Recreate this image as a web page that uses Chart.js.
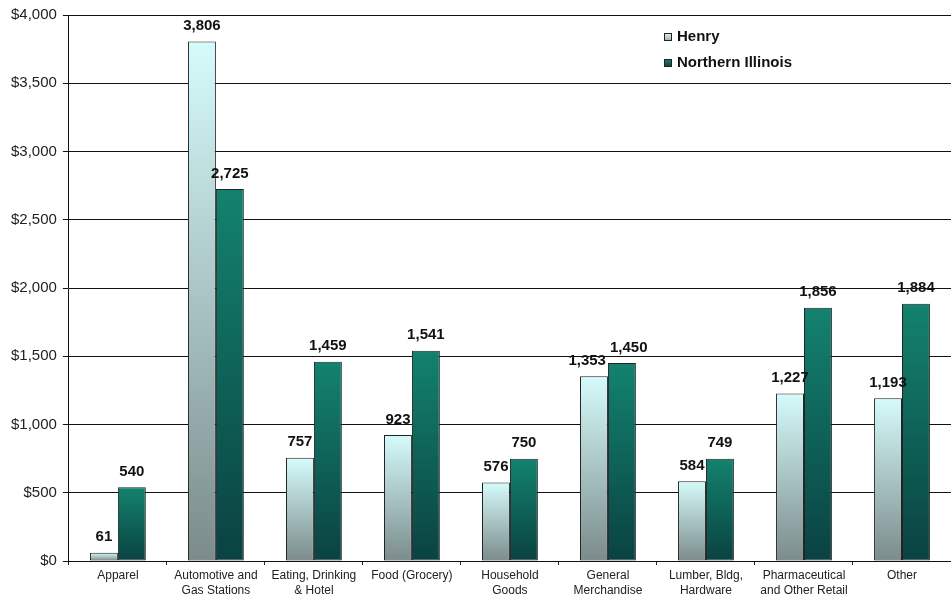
<!DOCTYPE html>
<html>
<head>
<meta charset="utf-8">
<script src="https://cdn.jsdelivr.net/npm/chart.js@4"></script>
<style>
  html, body { margin: 0; padding: 0; background: #fff; }
  #wrap { width: 951px; height: 601px; }
</style>
</head>
<body>
<div id="wrap"><canvas id="c" width="951" height="601"></canvas></div>
<script>
const categories = [
  ['Apparel'],
  ['Automotive and', 'Gas Stations'],
  ['Eating, Drinking', '& Hotel'],
  ['Food (Grocery)'],
  ['Household', 'Goods'],
  ['General', 'Merchandise'],
  ['Lumber, Bldg,', 'Hardware'],
  ['Pharmaceutical', 'and Other Retail'],
  ['Other']
];
const henry = [61, 3806, 757, 923, 576, 1353, 584, 1227, 1193];
const northernIllinois = [540, 2725, 1459, 1541, 750, 1450, 749, 1856, 1884];
const seriesNames = ['Henry', 'Northern Illinois'];

const FONT = '"Liberation Sans", Arial, sans-serif';

// colores de cada serie (arriba, abajo)
const GRAD = {
  henry: ['#d6fbfb', '#7b8b8b'],
  ni: ['#13826f', '#0a4242']
};

function barGradient(cols) {
  return function (ctx) {
    const chart = ctx.chart;
    if (!chart.chartArea || ctx.raw == null) return cols[0];
    const y = chart.scales.y;
    const top = y.getPixelForValue(ctx.raw);
    const bottom = y.getPixelForValue(0);
    const g = chart.ctx.createLinearGradient(0, top, 0, bottom);
    g.addColorStop(0, cols[0]);
    g.addColorStop(1, cols[1]);
    return g;
  };
}

// etiquetas de valor encima de las barras
const valueLabels = {
  id: 'valueLabels',
  afterDatasetsDraw(chart) {
    const c = chart.ctx;
    c.save();
    c.font = 'bold 15px ' + FONT;
    c.fillStyle = '#111';
    c.textAlign = 'center';
    c.textBaseline = 'bottom';
    const m0 = chart.getDatasetMeta(0).data;
    const m1 = chart.getDatasetMeta(1).data;
    for (let i = 0; i < m0.length; i++) {
      const t0 = chart.data.datasets[0].data[i].toLocaleString('en-US');
      const t1 = chart.data.datasets[1].data[i].toLocaleString('en-US');
      let x0 = m0[i].x, y0 = m0[i].y - 8;
      let x1 = m1[i].x, y1 = m1[i].y - 8;
      const w0 = c.measureText(t0).width, w1 = c.measureText(t1).width;
      // evitar que se pisen
      if (Math.abs(y0 - y1) < 17) {
        const overlap = (x0 + w0 / 2 + 4) - (x1 - w1 / 2);
        if (overlap > 0) { x0 -= overlap / 2; x1 += overlap / 2; }
      }
      c.fillText(t0, x0, y0);
      c.fillText(t1, x1, y1);
    }
    c.restore();
  }
};

// leyenda dentro del area del grafico
const innerLegend = {
  id: 'innerLegend',
  afterDraw(chart) {
    const c = chart.ctx;
    const x = 664;
    const ys = [37, 63];
    c.save();
    c.font = 'bold 15px ' + FONT;
    c.textBaseline = 'middle';
    const fills = [['#e8f4f4', '#9aa8a8'], ['#1a8070', '#0a4040']];
    chart.data.datasets.forEach((ds, i) => {
      const g = c.createLinearGradient(0, ys[i] - 4, 0, ys[i] + 4);
      g.addColorStop(0, fills[i][0]);
      g.addColorStop(1, fills[i][1]);
      c.fillStyle = g;
      c.fillRect(x, ys[i] - 4, 8, 8);
      c.strokeStyle = '#222';
      c.lineWidth = 1;
      c.strokeRect(x + 0.5, ys[i] - 3.5, 7, 7);
      c.fillStyle = '#111';
      c.fillText(ds.label, x + 13, ys[i]);
    });
    c.restore();
  }
};

new Chart(document.getElementById('c'), {
  type: 'bar',
  data: {
    labels: categories,
    datasets: [
      {
        label: seriesNames[0],
        data: henry,
        backgroundColor: barGradient(GRAD.henry),
        borderColor: '#222',
        borderWidth: 1,
        borderSkipped: false
      },
      {
        label: seriesNames[1],
        data: northernIllinois,
        backgroundColor: barGradient(GRAD.ni),
        borderColor: '#222',
        borderWidth: 1,
        borderSkipped: false
      }
    ]
  },
  options: {
    responsive: false,
    animation: false,
    layout: { padding: { top: 2, right: 0, left: 5, bottom: 0 } },
    datasets: { bar: { categoryPercentage: 0.57, barPercentage: 1 } },
    plugins: {
      legend: { display: false },
      tooltip: { enabled: false }
    },
    scales: {
      x: {
        grid: { drawOnChartArea: false, drawTicks: true, tickLength: 4, color: '#222', offset: true },
        border: { display: true, color: '#111' },
        ticks: {
          color: '#222',
          font: { size: 12, family: FONT, lineHeight: 1.25 },
          maxRotation: 0,
          autoSkip: false,
          padding: 3
        }
      },
      y: {
        min: 0,
        max: 4000,
        grid: { color: '#111', tickLength: 6 },
        border: { display: true, color: '#111' },
        ticks: {
          stepSize: 500,
          color: '#222',
          padding: 6,
          font: { size: 15, family: FONT },
          callback: v => '$' + v.toLocaleString('en-US')
        }
      }
    }
  },
  plugins: [valueLabels, innerLegend]
});
</script>
</body>
</html>
